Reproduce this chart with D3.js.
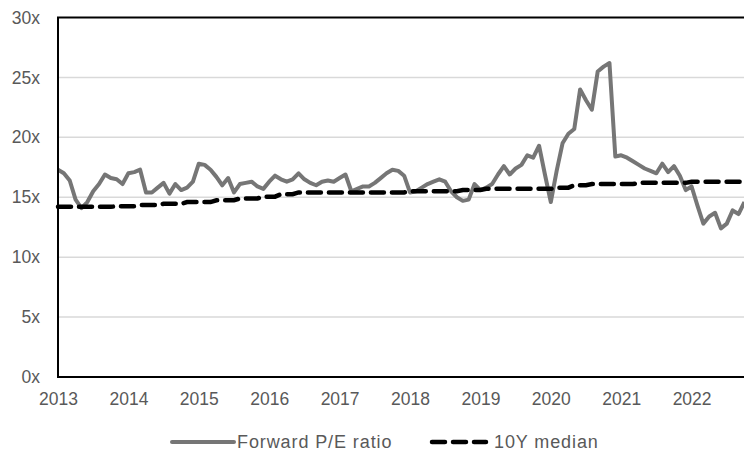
<!DOCTYPE html>
<html>
<head>
<meta charset="utf-8">
<script src="https://cdn.jsdelivr.net/npm/d3@7"></script>
<style>
  body { margin: 0; background: #fff; }
  svg { display: block; font-family: "Liberation Sans", Arial, sans-serif; }
</style>
</head>
<body>
<div id="chart"></div>
<script>
// monthly values, Jan 2013 onwards
const peRatio = [
  17.3, 17.0, 16.4, 14.8, 14.1, 14.6, 15.5, 16.1, 16.9, 16.6, 16.5, 16.1,
  17.0, 17.1, 17.3, 15.4, 15.4, 15.8, 16.2, 15.3, 16.1, 15.6, 15.8, 16.3,
  17.8, 17.7, 17.3, 16.7, 16.0, 16.6, 15.4, 16.1, 16.2, 16.3, 15.9, 15.7,
  16.3, 16.8, 16.5, 16.3, 16.5, 17.0, 16.5, 16.2, 16.0, 16.3, 16.4, 16.3,
  16.6, 16.9, 15.5, 15.7, 15.9, 15.9, 16.2, 16.6, 17.0, 17.3, 17.2, 16.8,
  15.4, 15.5, 15.8, 16.1, 16.3, 16.5, 16.3, 15.5, 15.0, 14.7, 14.8, 16.1,
  15.6, 15.8, 16.1, 16.9, 17.6, 16.9, 17.4, 17.7, 18.5, 18.3, 19.3, 16.9,
  14.6, 17.2, 19.5, 20.3, 20.7, 24.0, 23.1, 22.3, 25.5, 25.9, 26.2, 18.4,
  18.5, 18.3, 18.0, 17.7, 17.4, 17.2, 17.0, 17.8, 17.1, 17.6, 16.8, 15.6,
  15.9, 14.3, 12.8, 13.4, 13.7, 12.4, 12.8, 13.9, 13.6, 14.6
];

const median10y = [
  14.2, 14.2, 14.2, 14.2, 14.2, 14.2, 14.2, 14.2, 14.2, 14.2, 14.25, 14.25,
  14.25, 14.25, 14.35, 14.35, 14.35, 14.35, 14.45, 14.45, 14.45, 14.45, 14.6, 14.6,
  14.6, 14.6, 14.6, 14.75, 14.75, 14.75, 14.75, 14.9, 14.9, 14.9, 14.9, 15.05,
  15.05, 15.05, 15.25, 15.25, 15.25, 15.4, 15.4, 15.4, 15.4, 15.4, 15.4, 15.4,
  15.4, 15.4, 15.4, 15.4, 15.4, 15.4, 15.4, 15.4, 15.4, 15.4, 15.4, 15.4,
  15.5, 15.5, 15.5, 15.5, 15.5, 15.5, 15.5, 15.5, 15.5, 15.6, 15.6, 15.6,
  15.6, 15.7, 15.7, 15.7, 15.7, 15.7, 15.7, 15.7, 15.7, 15.7, 15.7, 15.7,
  15.7, 15.8, 15.8, 15.8, 16.0, 16.0, 16.0, 16.1, 16.1, 16.1, 16.1, 16.1,
  16.1, 16.1, 16.1, 16.2, 16.2, 16.2, 16.2, 16.2, 16.2, 16.2, 16.2, 16.2,
  16.3, 16.3, 16.3, 16.3, 16.3, 16.3, 16.3, 16.3, 16.3, 16.3
];

const yearLabels = ['2013', '2014', '2015', '2016', '2017', '2018', '2019', '2020', '2021', '2022'];
const yTicks = [0, 5, 10, 15, 20, 25, 30];
const seriesNames = ['Forward P/E ratio', '10Y median'];

const width = 744, height = 456;
const margin = { top: 17.5, right: -18, bottom: 79, left: 58 };
const innerW = width - margin.left - margin.right;
const innerH = height - margin.top - margin.bottom;

const svg = d3.select('#chart')
  .append('svg')
  .attr('width', width)
  .attr('height', height);

const g = svg.append('g')
  .attr('transform', `translate(${margin.left},${margin.top})`);

// months from Jan 2013, axis runs to Jan 2023
const x = d3.scaleLinear()
  .domain([0, 120])
  .range([0, innerW]);

const y = d3.scaleLinear()
  .domain([0, 30])
  .range([innerH, 0]);

// gridlines
g.append('g')
  .selectAll('line')
  .data(yTicks.filter(d => d > 0 && d < 30))
  .join('line')
  .attr('x1', 0)
  .attr('x2', innerW)
  .attr('y1', d => y(d))
  .attr('y2', d => y(d))
  .attr('stroke', '#d9d9d9')
  .attr('stroke-width', 1.5);

// y axis labels
const yAxis = g.append('g')
  .call(d3.axisLeft(y).tickValues(yTicks).tickFormat(d => d + 'x').tickSize(0).tickPadding(18));
yAxis.select('.domain').remove();
yAxis.selectAll('text')
  .attr('fill', '#595959')
  .style('font-size', '17.5px');

// x axis labels
const xAxis = g.append('g')
  .attr('transform', `translate(0,${innerH})`)
  .call(d3.axisBottom(x).tickValues(yearLabels.map((d, i) => i * 12)).tickFormat((d, i) => yearLabels[i]).tickSize(0).tickPadding(16));
xAxis.select('.domain').remove();
xAxis.selectAll('text')
  .attr('fill', '#595959')
  .style('font-size', '17.5px');

const line = d3.line()
  .x((d, i) => x(i))
  .y(d => y(d));

g.append('path')
  .datum(peRatio)
  .attr('fill', 'none')
  .attr('stroke', '#767676')
  .attr('stroke-width', 4)
  .attr('stroke-linejoin', 'round')
  .attr('d', line);

g.append('path')
  .datum(median10y)
  .attr('fill', 'none')
  .attr('stroke', '#000')
  .attr('stroke-width', 4.5)
  .attr('stroke-dasharray', '13,8')
  .attr('stroke-linecap', 'round')
  .attr('d', line);

// plot frame
g.append('rect')
  .attr('x', 0)
  .attr('y', 0)
  .attr('width', innerW)
  .attr('height', innerH)
  .attr('fill', 'none')
  .attr('stroke', '#000')
  .attr('stroke-width', 2);

// legend
const legend = svg.append('g')
  .attr('transform', 'translate(0,442)');

const items = [
  { name: seriesNames[0], x0: 172, x1: 234, tx: 237, color: '#767676', dash: null },
  { name: seriesNames[1], x0: 432, x1: 486, tx: 494, color: '#000', dash: '13,8' }
];

items.forEach(it => {
  legend.append('line')
    .attr('x1', it.x0)
    .attr('x2', it.x1)
    .attr('y1', 0)
    .attr('y2', 0)
    .attr('stroke', it.color)
    .attr('stroke-width', it.dash ? 4.5 : 4)
    .attr('stroke-linecap', 'round')
    .attr('stroke-dasharray', it.dash);
  legend.append('text')
    .attr('x', it.tx)
    .attr('y', 0)
    .attr('dy', '0.35em')
    .attr('fill', '#595959')
    .style('font-size', '18px')
    .style('letter-spacing', '0.9px')
    .text(it.name);
});
</script>
</body>
</html>
